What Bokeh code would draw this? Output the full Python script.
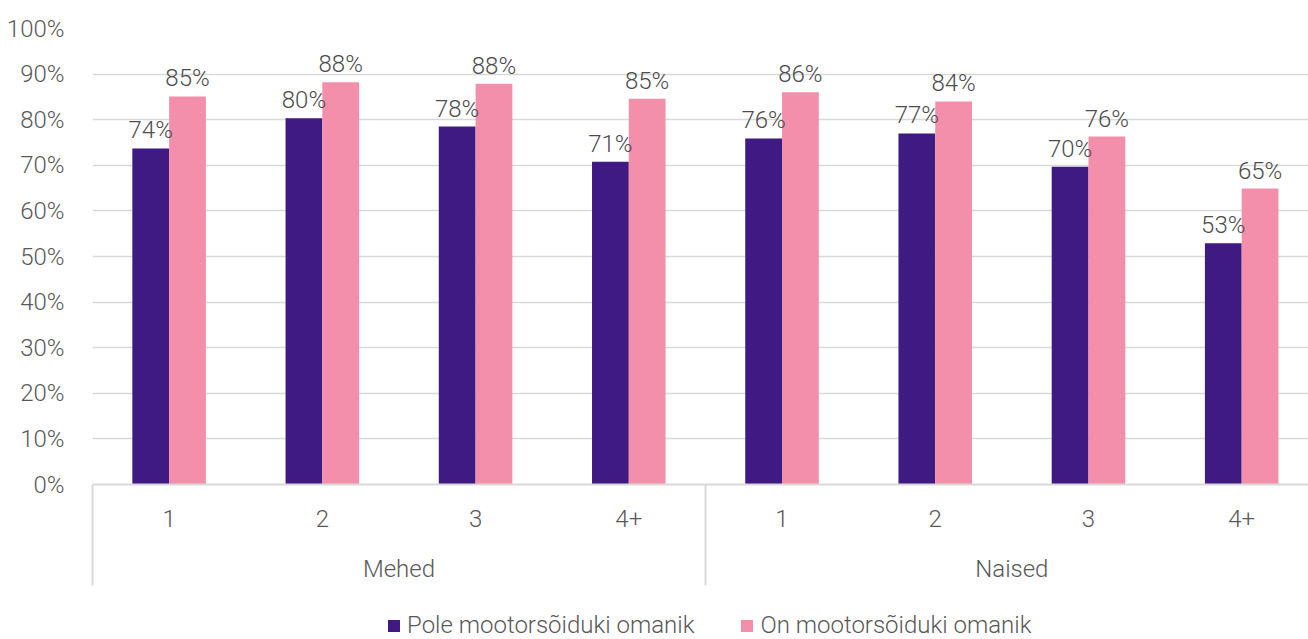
from bokeh.plotting import figure
from bokeh.layouts import column
from bokeh.models import (Range1d, LinearAxis, FixedTicker,
                          ColumnDataSource, Legend, LegendItem, PrintfTickFormatter)
from bokeh.transform import dodge
from bokeh.core.properties import value
from bokeh.embed import file_html
from bokeh.resources import INLINE

# ---- data ----
genders = ["Mehed", "Naised"]
sizes = ["1", "2", "3", "4+"]
series_names = ["Pole mootorsõiduki omanik", "On mootorsõiduki omanik"]
no_vehicle = [73.7, 80.3, 78.5, 70.8, 75.9, 77.0, 69.7, 52.9]
has_vehicle = [85.1, 88.2, 87.9, 84.6, 86.0, 84.0, 76.3, 64.9]
y_ticks = [0, 10, 20, 30, 40, 50, 60, 70, 80, 90, 100]

# ---- styles ----
FONT = "Roboto Light"
TXT = "#595959"
GRID = "#d9d9d9"
C_DARK = "#3f1a82"
C_PINK = "#f48fab"
FS = "24px"

factors = [(g, s) for g in genders for s in sizes]
n = len(factors)
centers = [i + 0.5 for i in range(n)]          # category slot centres

src = ColumnDataSource(dict(
    x=centers,
    a=no_vehicle,
    b=has_vehicle,
    la=[f"{round(v)}%" for v in no_vehicle],
    lb=[f"{round(v)}%" for v in has_vehicle],
))

# the chart area is slightly cropped at the right edge, as in the original
p = figure(width=1308, height=599,
           x_range=Range1d(0, n * 0.992), y_range=Range1d(0, 100),
           output_backend="svg", toolbar_location=None, x_axis_location=None,
           min_border_top=28, min_border_left=92, min_border_right=0,
           min_border_bottom=115)
p.outline_line_color = None

bw = 0.24
r1 = p.vbar(x=dodge("x", -bw / 2), top="a", width=bw, source=src,
            fill_color=C_DARK, line_color=None)
r2 = p.vbar(x=dodge("x", bw / 2), top="b", width=bw, source=src,
            fill_color=C_PINK, line_color=None)

for col, lab, off in (("a", "la", -bw / 2), ("b", "lb", bw / 2)):
    p.text(x=dodge("x", off), y=col, text=lab, source=src,
           text_align="center", text_baseline="alphabetic", y_offset=-18,
           text_font=value(FONT), text_font_size=FS, text_color="#4d4d4d")

# y axis
ya = p.yaxis[0]
ya.ticker = FixedTicker(ticks=y_ticks)
ya.formatter = PrintfTickFormatter(format="%d%%")
ya.axis_line_color = None
ya.major_tick_line_color = None
ya.minor_tick_line_color = None
ya.major_label_standoff = 22
ya.major_label_text_font = FONT
ya.major_label_text_font_size = FS
ya.major_label_text_color = TXT

p.xgrid.visible = False
p.ygrid.grid_line_color = GRID
p.ygrid.grid_line_width = 1.5
p.ygrid.ticker = FixedTicker(ticks=y_ticks)

# level 1: household size labels
ax1 = LinearAxis(ticker=FixedTicker(ticks=centers, minor_ticks=[]),
                 major_label_overrides={c: f[1] for c, f in zip(centers, factors)},
                 axis_line_color=GRID, axis_line_width=2,
                 major_tick_line_color=None, major_tick_out=0, major_tick_in=0,
                 minor_tick_line_color=None, minor_tick_out=0, minor_tick_in=0,
                 major_label_standoff=25,
                 major_label_text_font=FONT, major_label_text_font_size=FS,
                 major_label_text_color=TXT)
p.add_layout(ax1, "below")

# level 2: gender labels
gcenters = [i * len(sizes) + len(sizes) / 2 for i in range(len(genders))]
ax2 = LinearAxis(ticker=FixedTicker(ticks=gcenters, minor_ticks=[]),
                 major_label_overrides={c: g for c, g in zip(gcenters, genders)},
                 axis_line_color=None, major_tick_line_color=None,
                 minor_tick_line_color=None, major_tick_out=0, major_tick_in=0,
                 minor_tick_out=0, minor_tick_in=0,
                 major_label_standoff=25,
                 major_label_text_font=FONT, major_label_text_font_size=FS,
                 major_label_text_color=TXT)
p.add_layout(ax2, "below")

# group separators: ticks pointing back up towards the frame
bounds = [i * len(sizes) for i in range(len(genders))]
ax3 = LinearAxis(ticker=FixedTicker(ticks=bounds, minor_ticks=[]),
                 major_label_overrides={b: "" for b in bounds},
                 axis_line_color=None,
                 major_tick_line_color=GRID, major_tick_line_width=2,
                 major_tick_in=101, major_tick_out=0,
                 minor_tick_line_color=None, minor_tick_out=0, minor_tick_in=0,
                 major_label_standoff=0, major_label_text_font_size="0px")
p.add_layout(ax3, "below")

# legend strip below the chart (its frame is aligned with the chart frame)
pl = figure(width=1308, height=40, x_range=Range1d(0, n), y_range=Range1d(0, 1),
            output_backend="svg", toolbar_location=None,
            x_axis_location=None, y_axis_location=None, min_border=0)
pl.outline_line_color = None
pl.grid.visible = False
# zero-height bars: they only supply the legend swatches
e1 = pl.vbar(x="x", bottom=0, top=0, width=bw, source=src,
             fill_color=C_DARK, line_color=None)
e2 = pl.vbar(x="x", bottom=0, top=0, width=bw, source=src,
             fill_color=C_PINK, line_color=None)
legend = Legend(items=[LegendItem(label=series_names[0], renderers=[e1]),
                       LegendItem(label=series_names[1], renderers=[e2])],
                orientation="horizontal", location=(294, 0),
                label_text_font=FONT, label_text_font_size=FS, label_text_color=TXT,
                glyph_width=15, glyph_height=15, label_standoff=6, spacing=45,
                border_line_color=None, background_fill_alpha=0,
                padding=0, margin=0)
pl.add_layout(legend, "center")

open("out.html", "w").write(file_html(column(p, pl, spacing=0), INLINE))
